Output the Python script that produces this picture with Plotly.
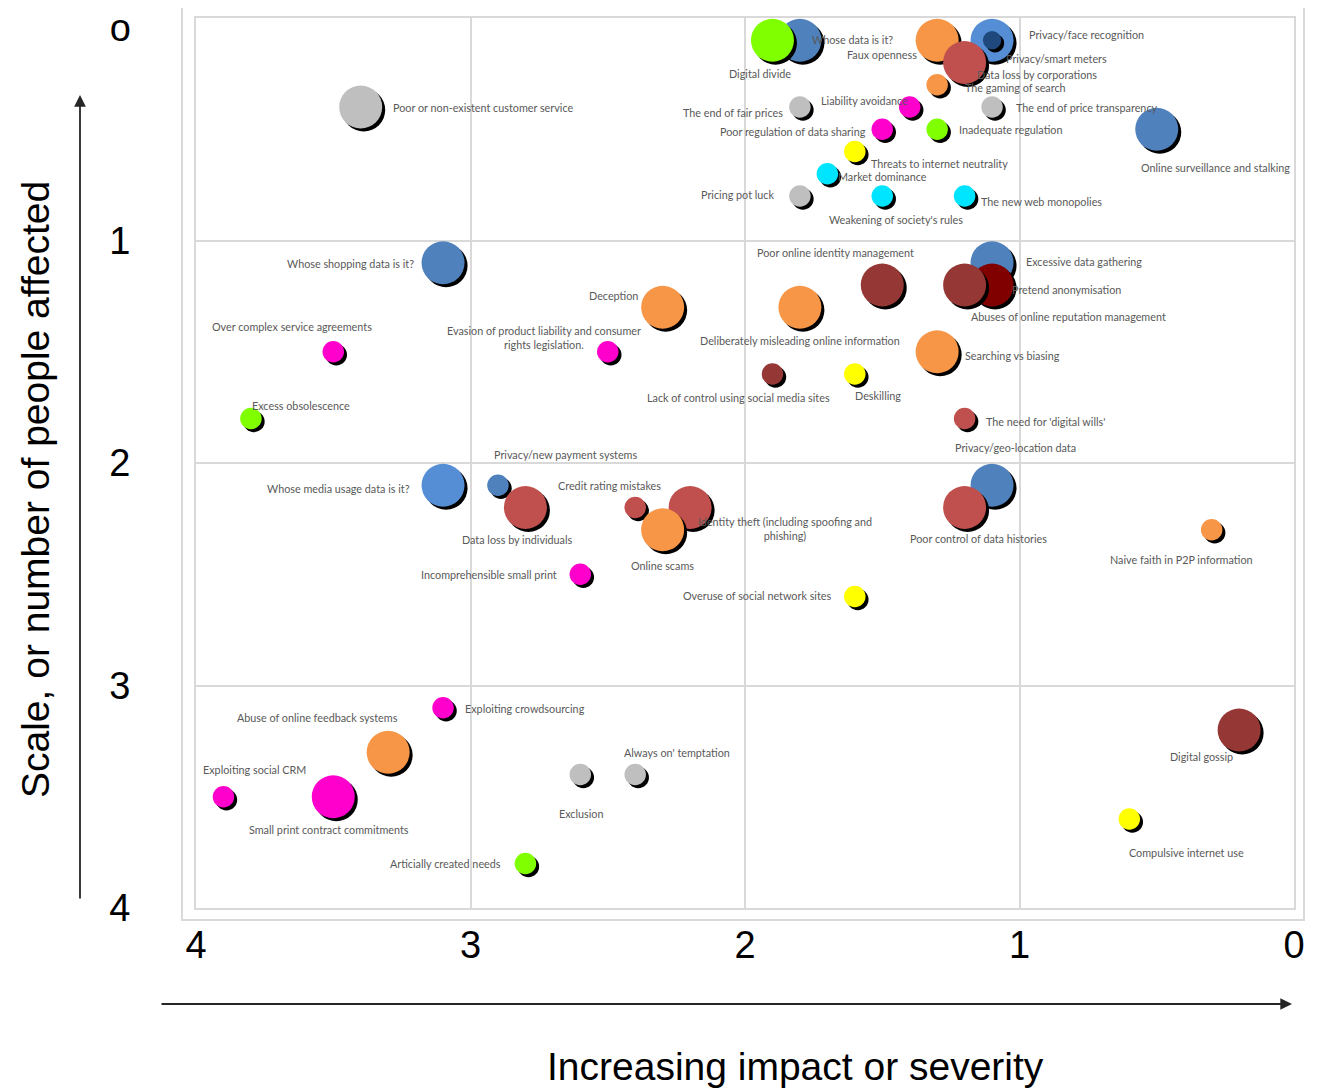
import plotly.graph_objects as go

# ---------------- data ----------------
names = [
    "Poor or non-existent customer service", "Whose data is it?", "Digital divide", "Faux openness",
    "Privacy/face recognition", "Privacy/smart meters", "Data loss by corporations", "The gaming of search",
    "The end of fair prices", "Liability avoidance", "The end of price transparency",
    "Poor regulation of data sharing", "Inadequate regulation", "Online surveillance and stalking",
    "Threats to internet neutrality", "Market dominance", "Pricing pot luck", "Weakening of society's rules",
    "The new web monopolies", "Whose shopping data is it?", "Deception", "Over complex service agreements",
    "Evasion of product liability and consumer<br>rights legislation.", "Excess obsolescence",
    "Poor online identity management", "Deliberately misleading online information",
    "Lack of control using social media sites", "Deskilling", "Excessive data gathering",
    "Pretend anonymisation", "Abuses of online reputation management", "Searching vs biasing",
    "The need for 'digital wills'", "Privacy/geo-location data", "Poor control of data histories",
    "Privacy/new payment systems", "Whose media usage data is it?", "Data loss by individuals",
    "Incomprehensible small print", "Identity theft (including spoofing and<br>phishing)",
    "Credit rating mistakes", "Online scams", "Overuse of social network sites",
    "Naive faith in P2P information", "Exploiting crowdsourcing", "Abuse of online feedback systems",
    "Exploiting social CRM", "Small print contract commitments", "Exclusion", "Always on' temptation",
    "Articially created needs", "Digital gossip", "Compulsive internet use",
]

impact = [3.4, 1.8, 1.9, 1.3, 1.1, 1.1, 1.2, 1.3, 1.8, 1.4, 1.1, 1.5, 1.3, 0.5, 1.6, 1.7, 1.8, 1.5, 1.2,
          3.1, 2.3, 3.5, 2.5, 3.8, 1.5, 1.8, 1.9, 1.6, 1.1, 1.1, 1.2, 1.3, 1.2, 1.1, 1.2, 2.9, 3.1, 2.8,
          2.6, 2.2, 2.4, 2.3, 1.6, 0.3, 3.1, 3.3, 3.9, 3.5, 2.6, 2.4, 2.8, 0.2, 0.6]

scale = [0.4, 0.1, 0.1, 0.1, 0.1, 0.1, 0.2, 0.3, 0.4, 0.4, 0.4, 0.5, 0.5, 0.5, 0.6, 0.7, 0.8, 0.8, 0.8,
         1.1, 1.3, 1.5, 1.5, 1.8, 1.2, 1.3, 1.6, 1.6, 1.1, 1.2, 1.2, 1.5, 1.8, 2.1, 2.2, 2.1, 2.1, 2.2,
         2.5, 2.2, 2.2, 2.3, 2.6, 2.3, 3.1, 3.3, 3.5, 3.5, 3.4, 3.4, 3.8, 3.2, 3.6]

# bubble magnitude (2 = large, 1 = small)
magnitude = [2, 2, 2, 2, 2, 0.85, 2, 1, 1, 1, 1, 1, 1, 2, 1, 1, 1, 1, 1,
             2, 2, 1, 1, 1, 2, 2, 1, 1, 2, 2, 2, 2, 1, 2, 2, 1, 2, 2,
             1, 2, 1, 2, 1, 1, 1, 2, 1, 2, 1, 1, 1, 2, 1]

category = ["gray", "blue", "green", "orange", "lightblue", "navy", "red", "orange", "gray", "magenta",
            "gray", "magenta", "green", "blue", "yellow", "cyan", "gray", "cyan", "cyan",
            "blue", "orange", "magenta", "magenta", "green", "darkred", "orange", "darkred", "yellow",
            "blue", "maroon", "darkred", "orange", "red", "blue", "red", "blue", "lightblue", "red",
            "magenta", "red", "red", "orange", "yellow", "orange", "magenta", "orange", "magenta",
            "magenta", "gray", "gray", "green", "darkred", "yellow"]

y_ticks = [1, 2, 3, 4]
y_ticktext = ["1", "2", "3", "4"]
y_top_tick = [0]
y_top_ticktext = ["o"]
x_ticks = [4, 3, 2, 1, 0]
x_ticktext = ["4", "3", "2", "1", "0"]

# ---------------- styles ----------------
COLORS = {
    "gray": "#BFBFBF", "blue": "#4F81BD", "lightblue": "#558ED5", "navy": "#1F497D",
    "green": "#80FF00", "orange": "#F79646", "red": "#C0504D", "darkred": "#953735",
    "maroon": "#800000", "magenta": "#FF00CC", "yellow": "#FFFF00", "cyan": "#00E5FF",
}
PX_PER_MAG = 21.5

# label placement: (xanchor, dx px, dy px) relative to bubble centre
LABEL_LAYOUT = [
    ("left", 30, 0), ("left", 10, -1), ("center", -12, 33), ("right", -18, 14), ("left", 35, -6),
    ("left", 12, 18), ("left", 10, 12), ("left", 26, 3), ("right", -15, 5), ("right", 0, -7),
    ("left", 22, 0), ("right", -14, 2), ("left", 20, 0), ("center", 59, 38), ("left", 14, 12),
    ("left", 9, 3), ("right", -24, -2), ("center", 14, 23), ("left", 14, 5),
    ("right", -27, 1), ("right", -23, -12), ("center", -41, -25), ("center", -64, -14),
    ("left", -1, -13), ("center", -47, -33), ("center", 0, 33), ("center", -34, 23),
    ("center", 23, 21), ("left", 32, -1), ("left", 18, 4), ("left", 4, 31), ("left", 26, 4),
    ("left", 19, 3), ("center", 23, -38), ("center", 14, 31), ("center", 68, -31),
    ("right", -31, 3), ("center", -8, 32), ("right", -21, 0), ("center", 95, 21),
    ("center", -26, -22), ("center", 0, 36), ("right", -22, -1), ("center", -30, 30),
    ("left", 20, 1), ("center", -71, -35), ("center", 31, -27), ("center", -4, 33),
    ("center", 1, 39), ("center", 42, -22), ("right", -22, 0), ("center", -38, 26),
    ("center", 57, 33),
]

OFF = 8                      # page body margin
W, H = 1322 - OFF, 1090 - OFF
ML, MT = 196 - OFF, 18 - OFF
MR = W - (1294 - OFF)
MB = H - (908 - OFF)
plot_w = W - ML - MR
plot_h = H - MT - MB
x_per_px = 4.0 / plot_w
y_per_px = 4.0 / plot_h
SHADOW_PX = 3

# interleave shadow + bubble so that layering is preserved
xs, ys, sizes, cols = [], [], [], []
for xi, yi, m, c in zip(impact, scale, magnitude, category):
    d = m * PX_PER_MAG
    xs.append(xi - SHADOW_PX * x_per_px)
    ys.append(yi + SHADOW_PX * y_per_px)
    sizes.append(d)
    cols.append("#000000")
    xs.append(xi)
    ys.append(yi)
    sizes.append(d)
    cols.append(COLORS[c])

fig = go.Figure()
fig.add_trace(go.Scatter(
    x=xs, y=ys, mode="markers",
    marker=dict(size=sizes, sizemode="diameter", color=cols, opacity=1, line=dict(width=0)),
    hoverinfo="skip", showlegend=False,
))
# invisible helper so the top tick axis is drawn
fig.add_trace(go.Scatter(
    x=impact[:1], y=scale[:1], yaxis="y2", mode="markers",
    marker=dict(size=1, opacity=0), hoverinfo="skip", showlegend=False,
))

annotations = []
for n, xi, yi, (anc, dx, dy) in zip(names, impact, scale, LABEL_LAYOUT):
    annotations.append(dict(
        x=xi, y=yi, xref="x", yref="y", text=n, showarrow=False,
        xanchor=anc, yanchor="middle", xshift=dx, yshift=-dy, align="center",
        font=dict(family="Lato, 'Open Sans', sans-serif", size=10.8, color="#595959"),
    ))


def px_to_paper_x(px):
    return (px - OFF - ML) / plot_w


def px_to_paper_y(py):
    return (H - MB - (py - OFF)) / plot_h


title_font = dict(family="Liberation Sans, Arial, sans-serif", size=39, color="#000000")
annotations.append(dict(
    x=px_to_paper_x(35), y=px_to_paper_y(490), xref="paper", yref="paper",
    xanchor="center", yanchor="middle",
    text="Scale, or number of people affected", textangle=-90, showarrow=False, font=title_font,
))
annotations.append(dict(
    x=px_to_paper_x(795), y=px_to_paper_y(1066), xref="paper", yref="paper",
    xanchor="center", yanchor="middle",
    text="Increasing impact or severity", showarrow=False, font=title_font,
))
# arrows
annotations.append(dict(
    x=px_to_paper_x(80), y=px_to_paper_y(95), xref="paper", yref="paper",
    ax=0, ay=805, axref="pixel", ayref="pixel", text="", showarrow=True,
    arrowhead=2, arrowsize=1.3, arrowwidth=1.8, arrowcolor="#262626",
))
annotations.append(dict(
    x=px_to_paper_x(1292), y=px_to_paper_y(1004), xref="paper", yref="paper",
    ax=-1132, ay=0, axref="pixel", ayref="pixel", text="", showarrow=True,
    arrowhead=2, arrowsize=1.3, arrowwidth=1.8, arrowcolor="#262626",
))

shapes = [dict(
    type="rect", xref="paper", yref="paper",
    x0=px_to_paper_x(182), x1=px_to_paper_x(1304), y0=px_to_paper_y(920), y1=px_to_paper_y(6),
    line=dict(color="#D9D9D9", width=2), fillcolor="rgba(0,0,0,0)", layer="below",
)]

tickfont = dict(family="Liberation Sans, Arial, sans-serif", size=38, color="#000000")

fig.update_layout(
    width=W, height=H,
    margin=dict(l=ML, r=MR, t=MT, b=MB, autoexpand=False),
    paper_bgcolor="white", plot_bgcolor="white",
    annotations=annotations, shapes=shapes,
    xaxis=dict(range=[4, 0], tickvals=x_ticks, ticktext=x_ticktext, showgrid=True,
               gridcolor="#D9D9D9", gridwidth=1.5, zeroline=False, showline=True, mirror=True,
               linecolor="#D9D9D9", linewidth=2, ticks="", tickfont=tickfont,
               ticklabelstandoff=2, ticklabeloverflow="allow", fixedrange=True),
    yaxis=dict(range=[4, 0], tickvals=y_ticks, ticktext=y_ticktext, showgrid=True,
               gridcolor="#D9D9D9", gridwidth=1.5, zeroline=False, showline=True, mirror=True,
               linecolor="#D9D9D9", linewidth=2, ticks="", tickfont=tickfont,
               ticklabelstandoff=56, ticklabeloverflow="allow", fixedrange=True),
    yaxis2=dict(range=[4, 0], overlaying="y", side="left", tickvals=y_top_tick,
                ticktext=y_top_ticktext, showgrid=False, zeroline=False, showline=False,
                ticks="", tickfont=tickfont, ticklabelstandoff=64, ticklabelshift=-10,
                ticklabeloverflow="allow", fixedrange=True),
    showlegend=False,
)

fig.write_html("out.html")
